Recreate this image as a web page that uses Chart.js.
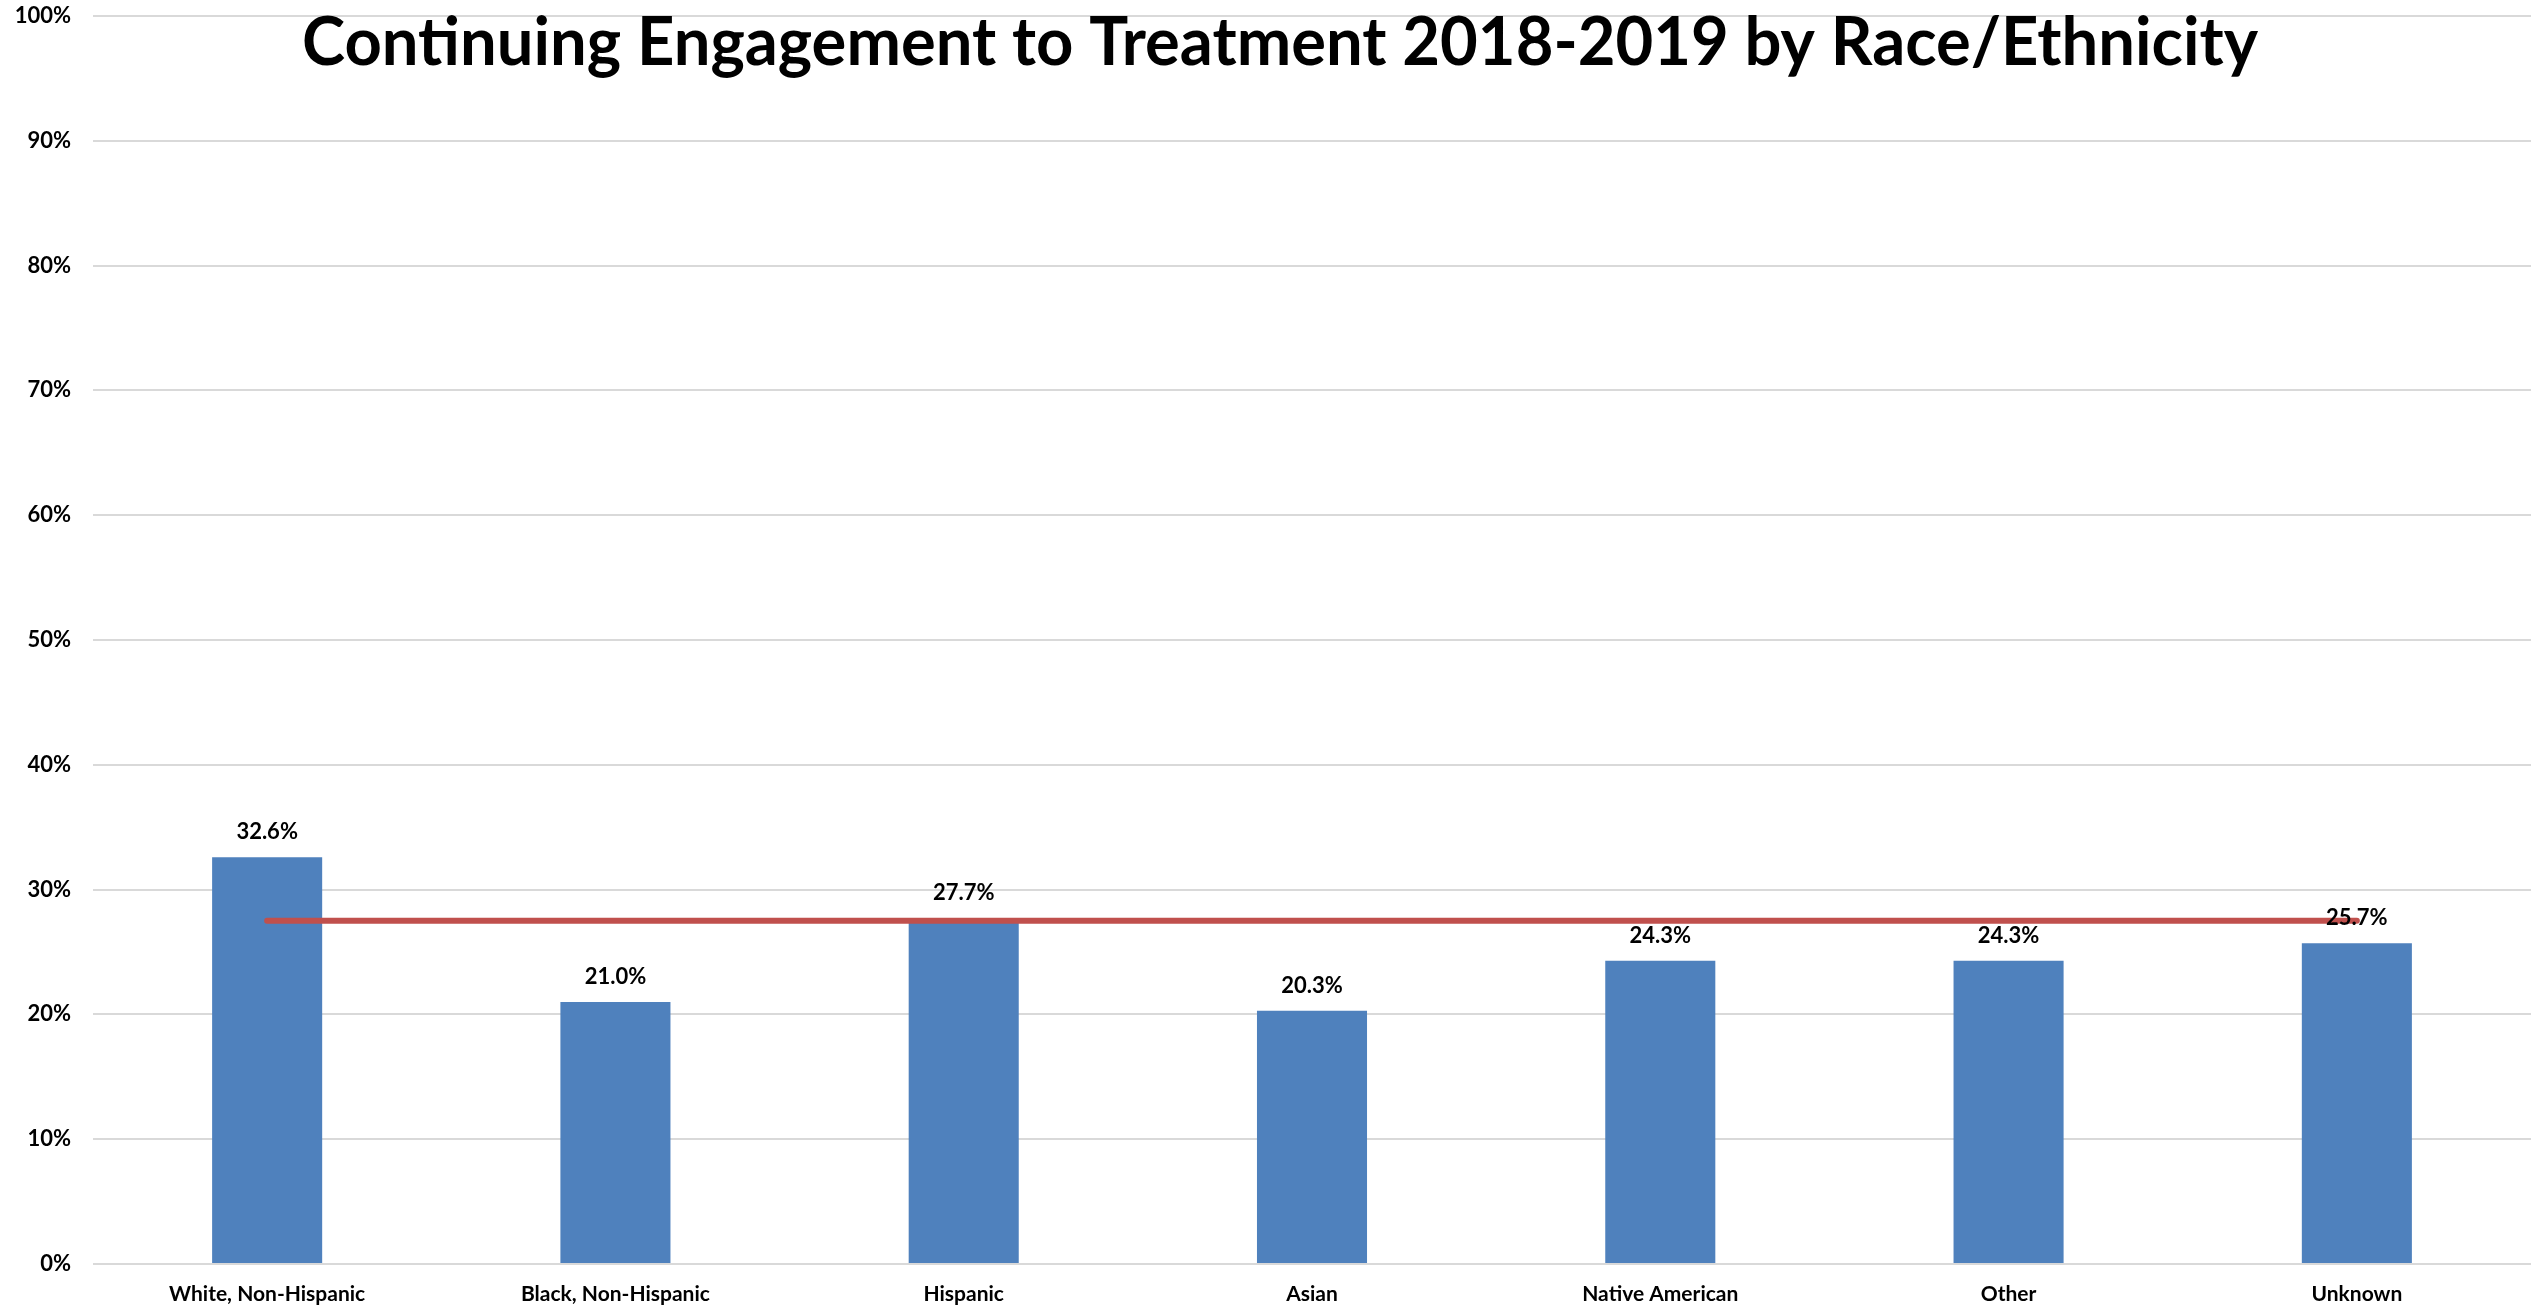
<!DOCTYPE html>
<html>
<head>
<meta charset="utf-8">
<script src="https://cdn.jsdelivr.net/npm/chart.js@4"></script>
<style>
  html, body { margin: 0; padding: 0; background: #ffffff; }
  #wrap { width: 2534px; height: 1307px; }
</style>
</head>
<body>
<div id="wrap"><canvas id="chart" width="2534" height="1307"></canvas></div>
<script>
const titleText = 'Continuing Engagement to Treatment 2018-2019 by Race/Ethnicity';
const categories = ['White, Non-Hispanic', 'Black, Non-Hispanic', 'Hispanic', 'Asian', 'Native American', 'Other', 'Unknown'];
const engagementRates = [32.6, 21.0, 27.7, 20.3, 24.3, 24.3, 25.7];
const overallRates = [27.5, 27.5, 27.5, 27.5, 27.5, 27.5, 27.5];
const yTicks = [0, 10, 20, 30, 40, 50, 60, 70, 80, 90, 100];

const FONT = 'Lato, "Open Sans", sans-serif';

// Title drawn over the top of the plot, centred on the page
const titlePlugin = {
  id: 'overlayTitle',
  afterDraw(chart) {
    const ctx = chart.ctx;
    ctx.save();
    const targetWidth = 1956;
    ctx.font = `bold 66px ${FONT}`;
    const w = ctx.measureText(titleText).width;
    ctx.translate(1280, 65);
    ctx.scale(targetWidth / w, 1);
    ctx.fillStyle = '#000000';
    ctx.textAlign = 'center';
    ctx.textBaseline = 'alphabetic';
    ctx.fillText(titleText, 0, 0);
    ctx.restore();
  }
};

// Value labels above each bar
const barLabelPlugin = {
  id: 'barLabels',
  afterDatasetsDraw(chart) {
    const ctx = chart.ctx;
    const meta = chart.getDatasetMeta(1);
    ctx.save();
    ctx.font = `bold 22px ${FONT}`;
    ctx.fillStyle = '#000000';
    ctx.textAlign = 'center';
    ctx.textBaseline = 'middle';
    meta.data.forEach((bar, i) => {
      ctx.fillText(engagementRates[i].toFixed(1) + '%', bar.x, bar.y - 25);
    });
    ctx.restore();
  }
};

new Chart(document.getElementById('chart'), {
  data: {
    labels: categories,
    datasets: [
      {
        type: 'line',
        data: overallRates,
        borderColor: '#C0504D',
        borderWidth: 6,
        borderCapStyle: 'round',
        pointRadius: 0,
        pointHoverRadius: 0,
        fill: false,
        order: 0
      },
      {
        type: 'bar',
        data: engagementRates,
        backgroundColor: '#4F81BD',
        borderWidth: 0,
        categoryPercentage: 1.0,
        barPercentage: 0.316,
        order: 1
      }
    ]
  },
  options: {
    responsive: false,
    animation: false,
    layout: { padding: { top: 16, right: 3, left: 0, bottom: 0 } },
    plugins: {
      legend: { display: false },
      title: { display: false },
      tooltip: { enabled: false }
    },
    scales: {
      x: {
        grid: { display: false, drawTicks: false },
        border: { display: false },
        ticks: {
          color: '#000000',
          font: { family: FONT, size: 21, weight: 'bold' },
          padding: 18,
          maxRotation: 0,
          autoSkip: false
        },
        afterFit(scale) { scale.height = 43; scale.paddingLeft = 0; scale.paddingRight = 0; }
      },
      y: {
        min: 0,
        max: 100,
        afterBuildTicks(scale) { scale.ticks = yTicks.map(v => ({ value: v })); },
        grid: { color: '#D9D9D9', lineWidth: 2, drawTicks: false },
        border: { display: false },
        ticks: {
          color: '#000000',
          font: { family: FONT, size: 22, weight: 'bold' },
          padding: 22,
          callback: v => v + '%'
        },
        afterFit(scale) { scale.width = 93; scale.paddingTop = 0; scale.paddingBottom = 0; }
      }
    }
  },
  plugins: [titlePlugin, barLabelPlugin]
});
</script>
</body>
</html>
